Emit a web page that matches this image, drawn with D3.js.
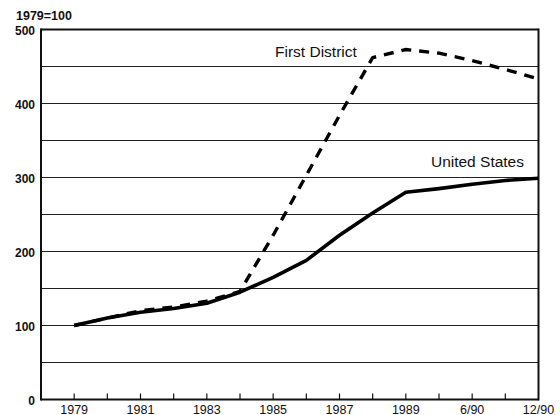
<!DOCTYPE html>
<html>
<head>
<meta charset="utf-8">
<script src="https://cdn.jsdelivr.net/npm/d3@7"></script>
<style>
  body { margin: 0; background: #fff; }
  text { font-family: "Liberation Sans", Arial, sans-serif; fill: #111; }
</style>
</head>
<body>
<script>
// Data (one slot per tick, 1979..12/90)
var periods = ["1979", "1980", "1981", "1982", "1983", "1984", "1985", "1986",
               "1987", "1988", "1989", "3/90", "6/90", "9/90", "12/90"];
var tickLabels = ["1979", "1981", "1983", "1985", "1987", "1989", "6/90", "12/90"];
var unitedStates = [100, 110, 118, 123, 130, 145, 165, 188, 222, 252, 280, 285, 291, 296, 299];
var firstDistrict = [100, 110, 120, 125, 133, 146, 222, 303, 384, 462, 473, 468, 458, 446, 433];
var yTicks = [0, 100, 200, 300, 400, 500];
var gridValues = [50, 100, 150, 200, 250, 300, 350, 400, 450];

var width = 560, height = 415;
var margin = {top: 29.5, right: 21.5, bottom: 15.5, left: 41};

var svg = d3.select("body").append("svg")
    .attr("width", width).attr("height", height);

var x = d3.scaleLinear().domain([0, 15]).range([margin.left, width - margin.right]);
var y = d3.scaleLinear().domain([0, 500]).range([height - margin.bottom, margin.top]);

// grid lines
svg.selectAll("line.grid").data(gridValues).enter().append("line")
    .attr("class", "grid")
    .attr("x1", x(0)).attr("x2", x(15))
    .attr("y1", function(d) { return y(d); })
    .attr("y2", function(d) { return y(d); })
    .attr("stroke", "#222").attr("stroke-width", 1.1);

// x tick marks
svg.selectAll("line.xtick").data(d3.range(1, 15)).enter().append("line")
    .attr("class", "xtick")
    .attr("x1", function(d) { return x(d); })
    .attr("x2", function(d) { return x(d); })
    .attr("y1", y(0)).attr("y2", y(0) - 6)
    .attr("stroke", "#111").attr("stroke-width", 1.2);

// frame
svg.append("line").attr("x1", x(0)).attr("x2", x(15)).attr("y1", y(500)).attr("y2", y(500))
    .attr("stroke", "#111").attr("stroke-width", 2);
svg.append("line").attr("x1", x(0)).attr("x2", x(15)).attr("y1", y(0)).attr("y2", y(0))
    .attr("stroke", "#111").attr("stroke-width", 2);
svg.append("line").attr("x1", x(0)).attr("x2", x(0)).attr("y1", y(0) + 1).attr("y2", y(500) - 1)
    .attr("stroke", "#111").attr("stroke-width", 2);
svg.append("line").attr("x1", x(15)).attr("x2", x(15)).attr("y1", y(0) + 1).attr("y2", y(500) - 1)
    .attr("stroke", "#111").attr("stroke-width", 2);

// y tick labels
svg.selectAll("text.ylab").data(yTicks).enter().append("text")
    .attr("class", "ylab")
    .attr("x", margin.left - 6)
    .attr("y", function(d) { return y(d) + 5; })
    .attr("text-anchor", "end")
    .attr("font-size", "12px")
    .attr("font-weight", "bold")
    .text(function(d) { return d; });

svg.append("text").attr("x", 16).attr("y", 20)
    .attr("font-size", "12.5px").attr("font-weight", "bold")
    .text("1979=100");

// x tick labels
svg.selectAll("text.xlab").data(tickLabels).enter().append("text")
    .attr("class", "xlab")
    .attr("x", function(d) { return x(periods.indexOf(d) + 1); })
    .attr("y", height - 1.5)
    .attr("text-anchor", "middle")
    .attr("font-size", "12.5px")
    .text(function(d) { return d; });

var line = d3.line()
    .x(function(d, i) { return x(i + 1); })
    .y(function(d) { return y(d); });

svg.append("path").datum(firstDistrict)
    .attr("d", line)
    .attr("fill", "none").attr("stroke", "#000")
    .attr("stroke-width", 3.4)
    .attr("stroke-dasharray", "10,8");

svg.append("path").datum(unitedStates)
    .attr("d", line)
    .attr("fill", "none").attr("stroke", "#000")
    .attr("stroke-width", 3.6)
    .attr("stroke-linejoin", "round");

// series labels
svg.append("text").attr("x", 275).attr("y", 57)
    .attr("font-size", "15.5px").text("First District");
svg.append("text").attr("x", 524).attr("y", 167)
    .attr("text-anchor", "end")
    .attr("font-size", "15.5px").text("United States");
</script>
</body>
</html>
